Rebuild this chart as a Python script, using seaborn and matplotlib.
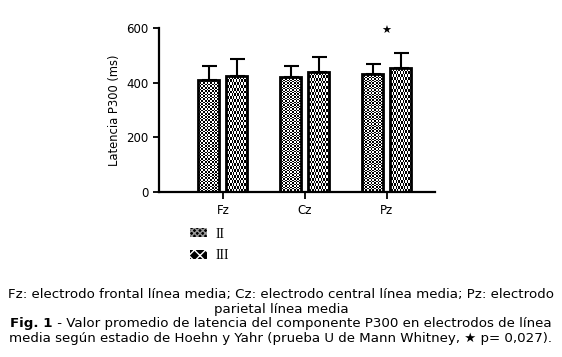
import numpy as np
import pandas as pd
import matplotlib
matplotlib.use("Agg")
import matplotlib.pyplot as plt
import matplotlib.patches as mpatches
import seaborn as sns

electrodes = ["Fz", "Cz", "Pz"]
stages = ["II", "III"]
mean_ii = [411, 420, 432]
mean_iii = [423, 438, 454]
sd_ii = [49, 43, 38]
sd_iii = [64, 55, 55]
star_label = "\u2605"
star_pos = ("Pz", 590)

caption1 = "Fz: electrodo frontal línea media; Cz: electrodo central línea media; Pz: electrodo"
caption2 = "parietal línea media"
caption3_bold = "Fig. 1"
caption3 = " - Valor promedio de latencia del componente P300 en electrodos de línea"
caption4 = "media según estadio de Hoehn y Yahr (prueba U de Mann Whitney, \u2605 p= 0,027)."

df = pd.DataFrame({
    "electrodo": electrodes * 2,
    "estadio": [stages[0]] * 3 + [stages[1]] * 3,
    "latencia": mean_ii + mean_iii,
    "sd": sd_ii + sd_iii,
})

sns.set_style("ticks")
plt.rcParams["font.family"] = ["DejaVu Sans"]
plt.rcParams["text.color"] = "black"
plt.rcParams["axes.labelcolor"] = "black"
plt.rcParams["xtick.color"] = "black"
plt.rcParams["ytick.color"] = "black"
plt.rcParams["axes.edgecolor"] = "black"

fig = plt.figure(figsize=(5.62, 3.57), dpi=100)
ax = fig.add_axes([0.283, 0.463, 0.491, 0.458])

sns.barplot(data=df, x="electrodo", y="latencia", hue="estadio", order=electrodes,
            hue_order=stages, width=0.683, gap=0.25, errorbar=None,
            color="white", edgecolor="black", linewidth=2.0, legend=False, ax=ax)

# checkerboard fills (fine for II, coarse for III)
def checker(n_x, n_y):
    return (np.add.outer(np.arange(n_y), np.arange(n_x)) % 2).astype(float)

fig.canvas.draw()
bars = ax.patches[:6]
cell_px = {0: 2.0, 1: 4.0}
for i, p in enumerate(bars):
    hue_idx = i // 3
    bb = p.get_window_extent()
    c = cell_px[hue_idx]
    nx = max(1, int(round(bb.width / c)))
    ny = max(1, int(round(bb.height / c)))
    img = ax.imshow(checker(nx, ny), cmap="gray", interpolation="nearest", aspect="auto",
                    extent=[p.get_x(), p.get_x() + p.get_width(), 0, p.get_height()],
                    zorder=p.get_zorder(), origin="lower")
    img.set_clip_path(p)
    p.set_zorder(p.get_zorder() + 0.1)
    p.set_facecolor("none")

# upper-only error bars
for i, p in enumerate(bars):
    sd = df["sd"].iloc[i]
    xc = p.get_x() + p.get_width() / 2
    ax.errorbar(xc, p.get_height(), yerr=[[0], [sd]], fmt="none", ecolor="black",
                elinewidth=1.5, capsize=5.4, capthick=1.5, zorder=1)

ax.text(electrodes.index(star_pos[0]), star_pos[1], star_label, ha="center", va="center",
        fontsize=8)

ax.set_xlim(-0.78, 2.59)
ax.set_ylim(0, 600)
ax.set_yticks([0, 200, 400, 600])
ax.set_xlabel("")
ax.set_ylabel("Latencia P300 (ms)", fontsize=8.3, labelpad=4)
ax.tick_params(axis="both", labelsize=8.5, width=1.3, length=4, direction="out")
ax.tick_params(axis="x", length=5, pad=4)
for s in ["top", "right"]:
    ax.spines[s].set_visible(False)
for s in ["left", "bottom"]:
    ax.spines[s].set_linewidth(1.6)

# legend
handles = [mpatches.Patch(facecolor="black", edgecolor="#999999", hatch="xxxxxx", linewidth=0),
           mpatches.Patch(facecolor="black", edgecolor="white", hatch="xxx", linewidth=0)]
leg = fig.legend(handles, stages, loc="upper left", bbox_to_anchor=(0.315, 0.397),
                 frameon=False, handlelength=1.25, handleheight=0.6, labelspacing=0.6,
                 handletextpad=0.6, prop={"family": "Liberation Serif", "size": 10})

cap_fs = 9.6
fig.text(0.5, 0.174, caption1, ha="center", va="center", fontsize=cap_fs)
fig.text(0.5, 0.134, caption2, ha="center", va="center", fontsize=cap_fs)
t1 = fig.text(0, 0.093, caption3_bold, ha="left", va="center", fontsize=cap_fs,
              fontweight="bold")
t2 = fig.text(0, 0.093, caption3, ha="left", va="center", fontsize=cap_fs)
fig.canvas.draw()
w1 = t1.get_window_extent().width
w2 = t2.get_window_extent().width
x0 = (fig.bbox.width - w1 - w2) / 2
t1.set_x(x0 / fig.bbox.width)
t2.set_x((x0 + w1) / fig.bbox.width)
fig.text(0.5, 0.053, caption4, ha="center", va="center", fontsize=cap_fs)

fig.savefig("out.png", dpi=100, facecolor="white")
